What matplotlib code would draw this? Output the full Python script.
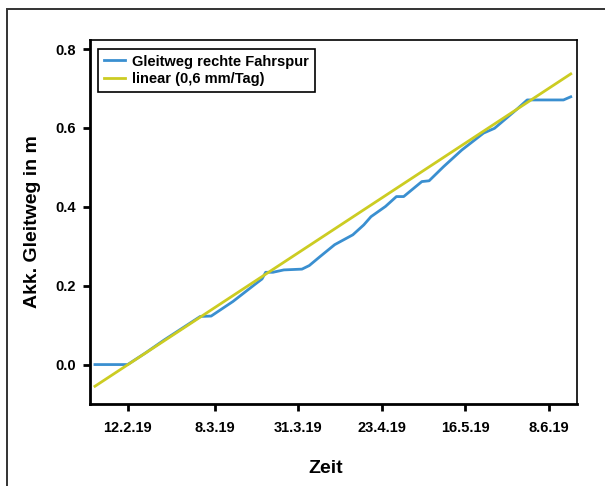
import matplotlib
matplotlib.use("Agg")
import matplotlib.pyplot as plt
import pandas as pd
from matplotlib.patches import Rectangle

plt.rcParams['font.family'] = ['Liberation Sans', 'DejaVu Sans']

# Measured series (accumulated sliding distance, m)
dates = ['2019-02-03', '2019-02-12', '2019-02-17', '2019-02-22', '2019-02-27',
         '2019-03-04', '2019-03-07', '2019-03-13', '2019-03-19', '2019-03-21',
         '2019-03-22', '2019-03-24', '2019-03-27', '2019-04-01', '2019-04-03',
         '2019-04-06', '2019-04-10', '2019-04-15', '2019-04-18', '2019-04-20',
         '2019-04-24', '2019-04-27', '2019-04-29', '2019-05-04', '2019-05-06',
         '2019-05-10', '2019-05-15', '2019-05-21', '2019-05-24', '2019-05-30',
         '2019-06-02', '2019-06-12', '2019-06-14']
values = [0.0, 0.0, 0.030, 0.062, 0.092,
          0.122, 0.123, 0.160, 0.203, 0.217,
          0.234, 0.234, 0.240, 0.242, 0.251,
          0.274, 0.304, 0.329, 0.354, 0.375,
          0.401, 0.426, 0.426, 0.464, 0.466,
          0.502, 0.544, 0.587, 0.599, 0.646,
          0.671, 0.671, 0.679]

# Linear trend endpoints
linear_dates = ['2019-02-03', '2019-06-14']
linear_values = [-0.055, 0.737]

tick_dates = ['2019-02-12', '2019-03-08', '2019-03-31', '2019-04-23', '2019-05-16', '2019-06-08']
tick_labels = ['12.2.19', '8.3.19', '31.3.19', '23.4.19', '16.5.19', '8.6.19']
y_ticks = [0.0, 0.2, 0.4, 0.6, 0.8]
y_tick_labels = ['0.0', '0.2', '0.4', '0.6', '0.8']

fig = plt.figure(figsize=(6.05, 4.86), dpi=100)
# outer frame
fig.patches.append(Rectangle((7 / 605, -0.1), 1.2, 1 - 9 / 486 + 0.1,
                             transform=fig.transFigure, fill=False,
                             edgecolor='#333333', linewidth=1.4, zorder=0))

ax = fig.add_axes([89.5 / 605, 1 - 404 / 486, (576.5 - 89.5) / 605, (404 - 40) / 486])

ax.plot(pd.to_datetime(dates), values, color='#3a8fd0', lw=2.0,
        label='Gleitweg rechte Fahrspur', zorder=2)
ax.plot(pd.to_datetime(linear_dates), linear_values, color='#cccc22', lw=2.0,
        label='linear (0,6 mm/Tag)', zorder=3)

ax.set_xlim(pd.Timestamp('2019-02-01 12:00'), pd.Timestamp('2019-06-15 14:00'))
ax.set_ylim(-0.1, 0.823)

ax.set_xticks(pd.to_datetime(tick_dates))
ax.set_xticklabels(tick_labels, fontsize=10.5, fontweight='bold')
ax.set_yticks(y_ticks)
ax.set_yticklabels(y_tick_labels, fontsize=10.5, fontweight='bold')

for s in ['left', 'bottom']:
    ax.spines[s].set_linewidth(2.0)
for s in ['top', 'right']:
    ax.spines[s].set_linewidth(1.2)
ax.tick_params(axis='both', direction='out', length=5, width=2.0, color='black')
ax.tick_params(axis='x', pad=7)
ax.tick_params(axis='y', pad=5)

ax.set_xlabel('Zeit', fontsize=14, fontweight='bold')
ax.xaxis.set_label_coords(0.484, -0.155)
ax.set_ylabel('Akk. Gleitweg in m', fontsize=14, fontweight='bold', labelpad=10)

leg = ax.legend(loc='upper left', bbox_to_anchor=(0.0, 1.0),
                prop={'weight': 'bold', 'size': 10.5}, frameon=True, fancybox=False,
                edgecolor='black', framealpha=1, handlelength=1.4, handletextpad=0.5,
                borderpad=0.4, labelspacing=0.25, borderaxespad=0.6)
leg.get_frame().set_linewidth(1.2)

fig.savefig('out.png', dpi=100)
